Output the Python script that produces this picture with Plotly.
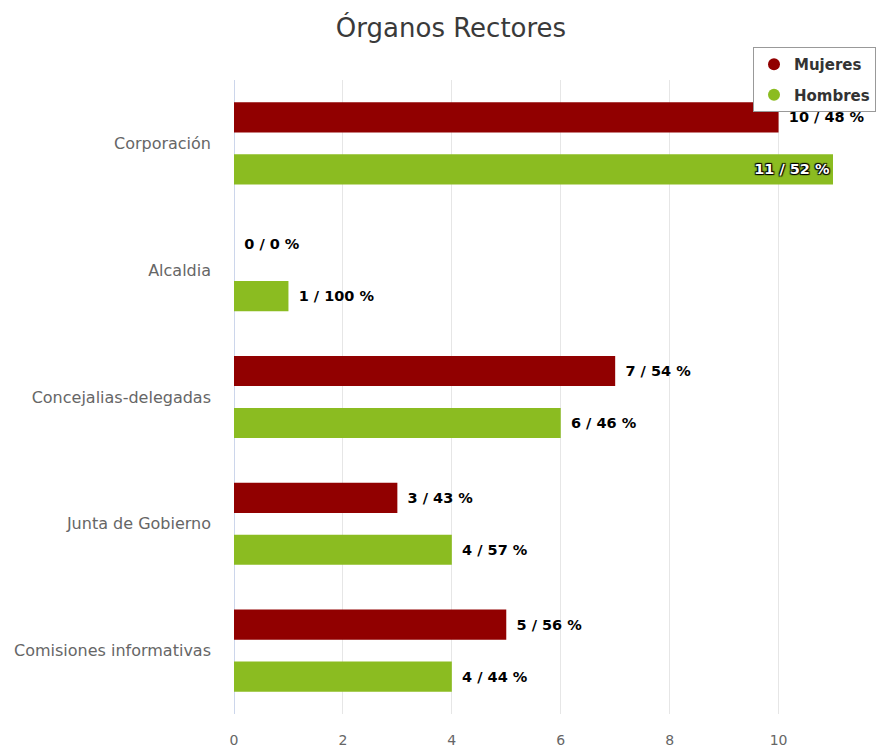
import plotly.graph_objects as go

# Governing bodies and counts by sex
categories = ["Corporación", "Alcaldia", "Concejalias-delegadas",
              "Junta de Gobierno", "Comisiones informativas"]
mujeres = [10, 0, 7, 3, 5]
mujeres_pct = [48, 0, 54, 43, 56]
hombres = [11, 1, 6, 4, 4]
hombres_pct = [52, 100, 46, 57, 44]
x_ticks = [0, 2, 4, 6, 8, 10, 12]

COLOR_M = "#910000"
COLOR_H = "#8bbc21"
FONT = "DejaVu Sans"

# Outside labels sit a little away from the bar end
labels_m = [f"\u2002{v} / {p} %" for v, p in zip(mujeres, mujeres_pct)]
labels_h = [f"\u2002{v} / {p} %" for v, p in zip(hombres, hombres_pct)]

# Long bars get their label drawn inside, at the bar end
xmax = max(x_ticks)
pos_m = ["inside" if v > xmax * 0.88 else "outside" for v in mujeres]
pos_h = ["inside" if v > xmax * 0.88 else "outside" for v in hombres]

label_font = dict(family=FONT, size=14.5, color="#000000", weight="bold")
inside_font = dict(family=FONT, size=14.5, color="#ffffff", weight="bold",
                   shadow="1px 1px 1px #000, -1px -1px 1px #000, 1px -1px 1px #000, -1px 1px 1px #000")

fig = go.Figure()
fig.add_trace(go.Bar(
    name="Mujeres", y=categories, x=mujeres, orientation="h",
    marker=dict(color=COLOR_M, line=dict(width=0)),
    text=labels_m, textposition=pos_m, insidetextanchor="end",
    textfont=label_font, outsidetextfont=label_font, insidetextfont=inside_font,
    constraintext="none", cliponaxis=False, showlegend=False, hoverinfo="x+y",
))
fig.add_trace(go.Bar(
    name="Hombres", y=categories, x=hombres, orientation="h",
    marker=dict(color=COLOR_H, line=dict(width=0)),
    text=labels_h, textposition=pos_h, insidetextanchor="end",
    textfont=label_font, outsidetextfont=label_font, insidetextfont=inside_font,
    constraintext="none", cliponaxis=False, showlegend=False, hoverinfo="x+y",
))

# Legend entries with round markers, one group each for wider spacing
for name, color in [("Mujeres", COLOR_M), ("Hombres", COLOR_H)]:
    fig.add_trace(go.Scatter(
        x=[None], y=[None], mode="markers", name=name, legendgroup=name,
        marker=dict(symbol="circle", size=19, color=color),
        showlegend=True, hoverinfo="skip",
    ))

fig.update_layout(
    width=890, height=752,
    margin=dict(l=234, r=2, t=80, b=38, autoexpand=False),
    paper_bgcolor="#ffffff", plot_bgcolor="#ffffff",
    barmode="group", bargap=0.18, bargroupgap=0.42,
    title=dict(text="Órganos Rectores", x=451 / 890, xanchor="center",
               xref="container", yref="container", y=1 - 28 / 752, yanchor="middle",
               font=dict(family=FONT, size=26, color="#3a3a3a")),
    legend=dict(xref="container", yref="container", x=753 / 890, y=1 - 47 / 752,
                xanchor="left", yanchor="top",
                bgcolor="#ffffff", bordercolor="#999999", borderwidth=1,
                font=dict(family=FONT, size=15, color="#333333", weight="bold"),
                itemsizing="constant", tracegroupgap=8, itemwidth=30),
    xaxis=dict(range=[0, xmax + 0.01], tickvals=x_ticks, showgrid=True,
               gridcolor="#e6e6e6", gridwidth=1,
               zeroline=True, zerolinecolor="#ccd6eb", zerolinewidth=1,
               showline=False, ticks="", ticklabelstandoff=16,
               tickfont=dict(family=FONT, size=14, color="#666666")),
    yaxis=dict(autorange="reversed", showgrid=False, zeroline=False,
               showline=False, ticks="", ticklabelstandoff=22,
               tickfont=dict(family=FONT, size=16, color="#666666")),
)

fig.write_html("out.html")
